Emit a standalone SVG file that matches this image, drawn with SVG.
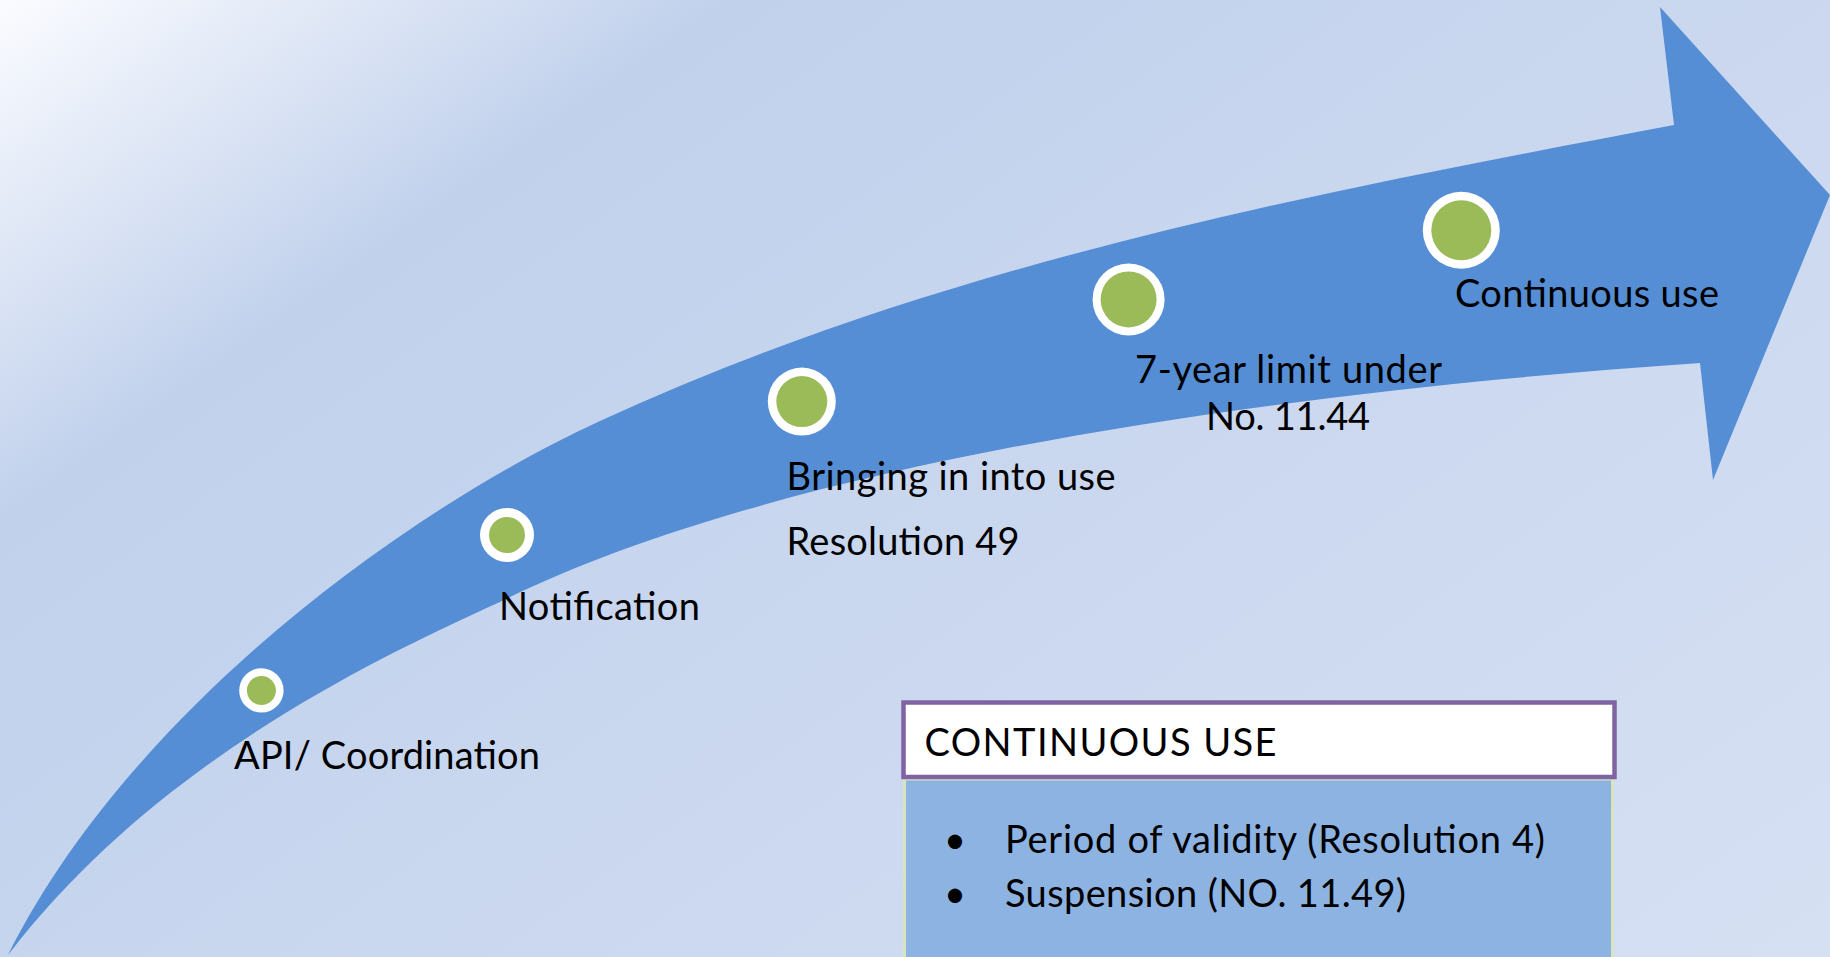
<svg xmlns="http://www.w3.org/2000/svg" width="1830" height="957" viewBox="0 0 1830 957">
<defs>
<linearGradient id="bg" gradientUnits="userSpaceOnUse" x1="0" y1="0" x2="1070" y2="1499">
<stop offset="0" stop-color="#FBFCFF"/>
<stop offset="0.23" stop-color="#C1D1EC"/>
<stop offset="1" stop-color="#D6E0F3"/>
</linearGradient>
<style>
.lbl{font-family:Lato,"Open Sans","Liberation Sans",sans-serif;font-size:38px;fill:#000}
.ring{fill:#FFFFFF}
.dot{fill:#9BBB59}
</style>
</defs>
<rect x="0" y="0" width="1830" height="957" fill="url(#bg)"/>
<g id="arrow">
<path fill="#558ED5" d="M 8 955 C 128 715 400 513 600 421 C 950 260 1324 191.5 1674 125 L 1660 7 L 1830 195 L 1713 480 L 1700 363 C 1200 397 750 477 500 602 C 350 669.5 148 773 8 955 Z"/>
</g>
<g id="connectors"></g>
<g id="node-api">
<circle class="ring" cx="261.4" cy="690.4" r="22.2"/>
<circle class="dot" cx="261.4" cy="690.4" r="14.5"/>
<text class="lbl" x="234" y="769" textLength="306">API/ Coordination</text>
</g>
<g id="node-notification">
<circle class="ring" cx="507" cy="535" r="27"/>
<circle class="dot" cx="507" cy="535" r="18"/>
<text class="lbl" x="499" y="620" textLength="201">Notification</text>
</g>
<g id="node-bringing">
<circle class="ring" cx="801.8" cy="401.6" r="34"/>
<circle class="dot" cx="801.8" cy="401.6" r="25.5"/>
<text class="lbl" x="786.6" y="490" textLength="329">Bringing in into use</text>
<text class="lbl" x="786.6" y="554.6" textLength="233">Resolution 49</text>
</g>
<g id="node-7year">
<circle class="ring" cx="1128.6" cy="299.4" r="36"/>
<circle class="dot" cx="1128.6" cy="299.4" r="28"/>
<text class="lbl" x="1135" y="383" textLength="307">7-year limit under</text>
<text class="lbl" x="1206" y="430" textLength="164">No. 11.44</text>
</g>
<g id="node-continuous">
<circle class="ring" cx="1461.3" cy="230.3" r="38.5"/>
<circle class="dot" cx="1461.3" cy="230.3" r="30"/>
<text class="lbl" x="1455" y="307" textLength="264">Continuous use</text>
</g>
<g id="box-continuous-use">
<rect x="904.5" y="779" width="708" height="185" fill="#8DB3E2" stroke="#D7E4BD" stroke-width="3"/>
<rect x="903.5" y="702.5" width="711" height="74.5" fill="#FFFFFF" stroke="#8064A2" stroke-width="4.5"/>
<text class="lbl" x="924.5" y="756" textLength="352">CONTINUOUS USE</text>
<text class="lbl" x="944" y="853">•</text>
<text class="lbl" x="1005" y="853" textLength="540">Period of validity (Resolution 4)</text>
<text class="lbl" x="944" y="907">•</text>
<text class="lbl" x="1005" y="907" textLength="401">Suspension (NO. 11.49)</text>
</g>
</svg>
